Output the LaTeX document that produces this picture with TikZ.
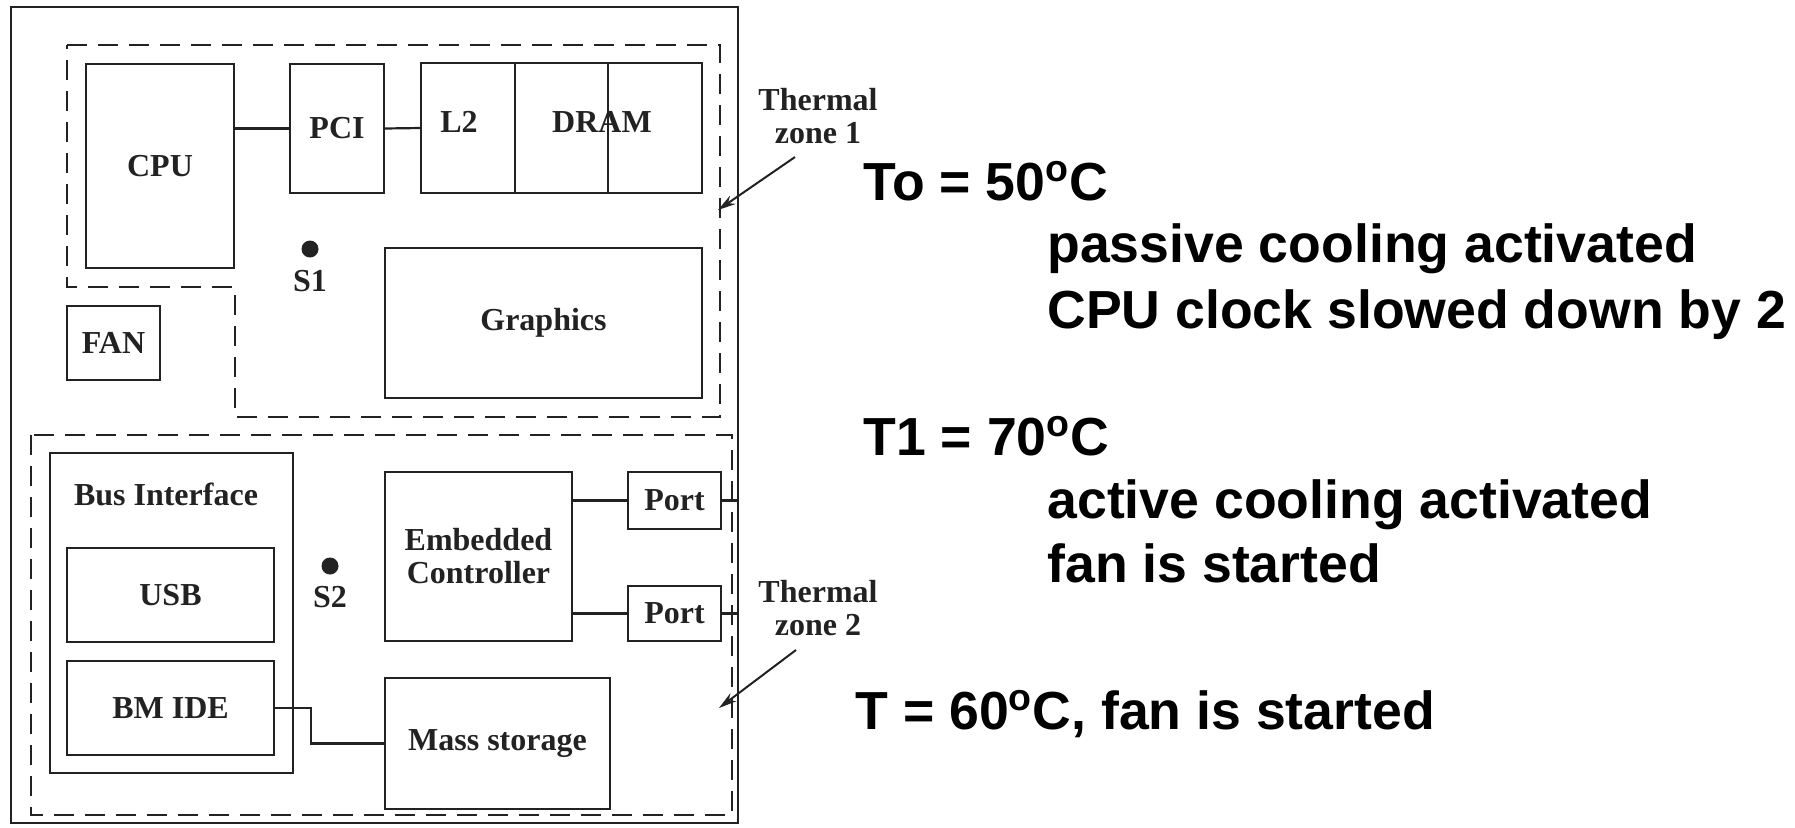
\documentclass[tikz,border=0pt]{standalone}
\usepackage{fontspec}
\setmainfont{Liberation Serif}
\newfontfamily\slidefont{Liberation Sans}
\usetikzlibrary{arrows.meta, positioning}
\definecolor{tinta}{RGB}{34, 34, 34}

\begin{document}
\begin{tikzpicture}[
    x=0.5pt, y=-0.5pt,
    box/.style={draw=tinta, line width=1.1pt, inner sep=0pt, outer sep=0pt, align=center, text=tinta, font=\fontsize{16}{16.5}\selectfont\bfseries},
    lbl/.style={inner sep=0pt, align=center, text=tinta, font=\fontsize{16}{16.5}\selectfont\bfseries},
    zone/.style={draw=tinta, line width=1.3pt, dash pattern=on 10pt off 5.5pt},
    wire/.style={draw=tinta, line width=1.1pt},
    sensor/.style={circle, fill=tinta, inner sep=0pt, minimum size=8.5pt},
    pointer/.style={draw=tinta, line width=1pt, -{Stealth[length=9pt, width=5pt]}},
    note/.style={anchor=base west, inner sep=0pt, font=\slidefont\fontsize{26.8}{30}\selectfont\bfseries}
]
    \useasboundingbox (0,0) rectangle (1795,827);

    % Board and thermal zones
    \node[draw=tinta, line width=1pt, inner sep=0pt, outer sep=0pt, minimum width=363.5pt, minimum height=408pt] (board) at (374.5,415) {};
    \draw[zone] (67,45) -- (720,45) -- (720,417) -- (235,417) -- (235,287) -- (67,287) -- cycle;
    \draw[zone] (31,435) rectangle (732,815);

    % Zone 1
    \node[box, minimum width=74pt, minimum height=102pt] (cpu) at (160,166) {CPU};
    \node[box, minimum width=47pt, minimum height=64.5pt] (pci) at (337,128.5) {PCI};
    \node[box, minimum width=47pt, minimum height=65pt] (l2) at (468,128) {};
    \node[box, minimum width=46.5pt, minimum height=65pt] (drama) at (561.5,128) {};
    \node[box, minimum width=47pt, minimum height=65pt] (dramb) at (655,128) {};
    \node[lbl] (l2lbl) at (459,122) {L2};
    \node[lbl] (dramlbl) at (602,122) {DRAM};
    \node[box, minimum width=158.5pt, minimum height=75pt] (gfx) at (543.5,323) {Graphics};
    \node[box, minimum width=46.5pt, minimum height=37pt] (fan) at (113.5,343) {FAN};
    \node[sensor] (s1) at (310,249) {};
    \node[lbl, below=6pt of s1] (s1lbl) {S1};

    % Zone 2
    \node[box, minimum width=121.5pt, minimum height=160pt] (bus) at (171.5,613) {};
    \node[lbl] (buslbl) at (166,494) {Bus Interface};
    \node[box, minimum width=103.5pt, minimum height=47pt] (usb) at (170.5,595) {USB};
    \node[box, minimum width=103.5pt, minimum height=47pt] (bmide) at (170.5,708) {BM IDE};
    \node[sensor] (s2) at (330,566) {};
    \node[lbl, below=5.5pt of s2] (s2lbl) {S2};
    \node[box, minimum width=93.5pt, minimum height=84.5pt] (ec) at (478.5,556.5) {Embedded\\Controller};
    \node[box, minimum width=46.5pt, minimum height=28.5pt] (port1) at (674.5,500.5) {Port};
    \node[box, minimum width=46.5pt, minimum height=27.5pt] (port2) at (674.5,613.5) {Port};
    \node[box, minimum width=112.5pt, minimum height=65.5pt] (mass) at (497.5,743.5) {Mass storage};

    % Links
    \draw[wire] (pci.west) -- (pci.west -| cpu.east);
    \draw[wire] (pci.east) -- (l2.west);
    \draw[wire] (port1.west) -- (port1.west -| ec.east);
    \draw[wire] (port2.west) -- (port2.west -| ec.east);
    \draw[wire] (port1.east) -- (port1.east -| board.east);
    \draw[wire] (port2.east) -- (port2.east -| board.east);
    \draw[wire] (bmide.east) -- ++(37,0) |- (mass.west);

    % Zone labels
    \node[lbl] (tz1) at (818,116) {Thermal\\zone 1};
    \node[lbl] (tz2) at (818,608) {Thermal\\zone 2};
    \coordinate (tz1tail) at (795,157);
    \coordinate (tz1tip) at (718,210);
    \coordinate (tz2tail) at (796,650);
    \coordinate (tz2tip) at (719,708);
    \draw[pointer] (tz1tail) -- (tz1tip);
    \draw[pointer] (tz2tail) -- (tz2tip);

    % Trip points
    \node[note] (t0) at (863,200) {To = 50\textsuperscript{o}C};
    \node[note] (t0a) at (1047,262) {passive cooling activated};
    \node[note] (t0b) at (1047,328) {CPU clock slowed down by 2};
    \node[note] (t1) at (863,455) {T1 = 70\textsuperscript{o}C};
    \node[note] (t1a) at (1047,518) {active cooling activated};
    \node[note] (t1b) at (1047,582) {fan is started};
    \node[note] (t2) at (855,729) {T = 60\textsuperscript{o}C, fan is started};
\end{tikzpicture}
\end{document}
